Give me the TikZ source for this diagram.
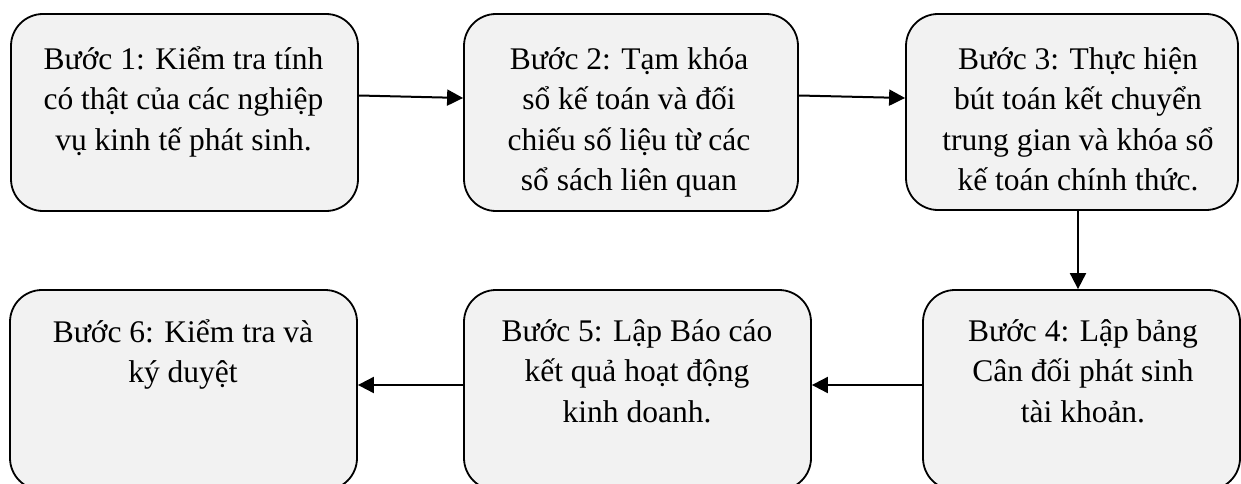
\documentclass[tikz,border=0pt]{standalone}
\usepackage{fontspec}
\setmainfont{Liberation Serif}
\usetikzlibrary{arrows.meta}
\tikzset{
  stepbox/.style={draw=black, line width=1.8pt, fill=boxgray, rounded corners=32pt, inner sep=0pt},
  steptext/.style={anchor=north, inner sep=0pt, align=center, font=\fontsize{31.5}{40.5}\selectfont},
  arr/.style={line width=2pt, -{Triangle[length=16pt, width=16pt]}}
}
\definecolor{boxgray}{HTML}{F2F2F2}
\begin{document}
\begin{tikzpicture}[x=1pt,y=-1pt]
\useasboundingbox (0,0) rectangle (1241,484);
% boxes
\node[stepbox, minimum width=347pt, minimum height=197pt] (b1) at (184.5,112.5) {};
\node[stepbox, minimum width=334pt, minimum height=197pt] (b2) at (631,112.5) {};
\node[stepbox, minimum width=332pt, minimum height=196pt] (b3) at (1072,112) {};
\node[stepbox, minimum width=317pt, minimum height=200pt] (b4) at (1081.5,390) {};
\node[stepbox, minimum width=347pt, minimum height=200pt] (b5) at (637.5,390) {};
\node[stepbox, minimum width=347pt, minimum height=200pt] (b6) at (183.5,390) {};
% texts
\node[steptext] (t1) at (183.5,40.5) {\strut Bước 1: Kiểm tra tính\\có thật của các nghiệp\\vụ kinh tế phát sinh.};
\node[steptext] (t2) at (629,40.5) {\strut Bước 2: Tạm khóa\\sổ kế toán và đối\\chiếu số liệu từ các\\sổ sách liên quan};
\node[steptext] (t3) at (1078,40.5) {\strut Bước 3: Thực hiện\\bút toán kết chuyển\\trung gian và khóa sổ\\kế toán chính thức.};
\node[steptext] (t4) at (1083,312.5) {\strut Bước 4: Lập bảng\\Cân đối phát sinh\\tài khoản.};
\node[steptext] (t5) at (637,312.5) {\strut Bước 5: Lập Báo cáo\\kết quả hoạt động\\kinh doanh.};
\node[steptext] (t6) at (183,313.5) {\strut Bước 6: Kiểm tra và\\ký duyệt};
% connectors
\draw[arr] (b1.east |- {(0,95.5)}) -- (b2.west |- {(0,98)});
\draw[arr] (b2.east |- {(0,95.5)}) -- (b3.west |- {(0,98)});
\draw[arr] (b3.south -| {(1078,0)}) -- (b4.north -| {(1078,0)});
\draw[arr] (b4.west |- {(0,385)}) -- (b5.east |- {(0,385)});
\draw[arr] (b5.west |- {(0,385)}) -- (b6.east |- {(0,385)});
\end{tikzpicture}
\end{document}
